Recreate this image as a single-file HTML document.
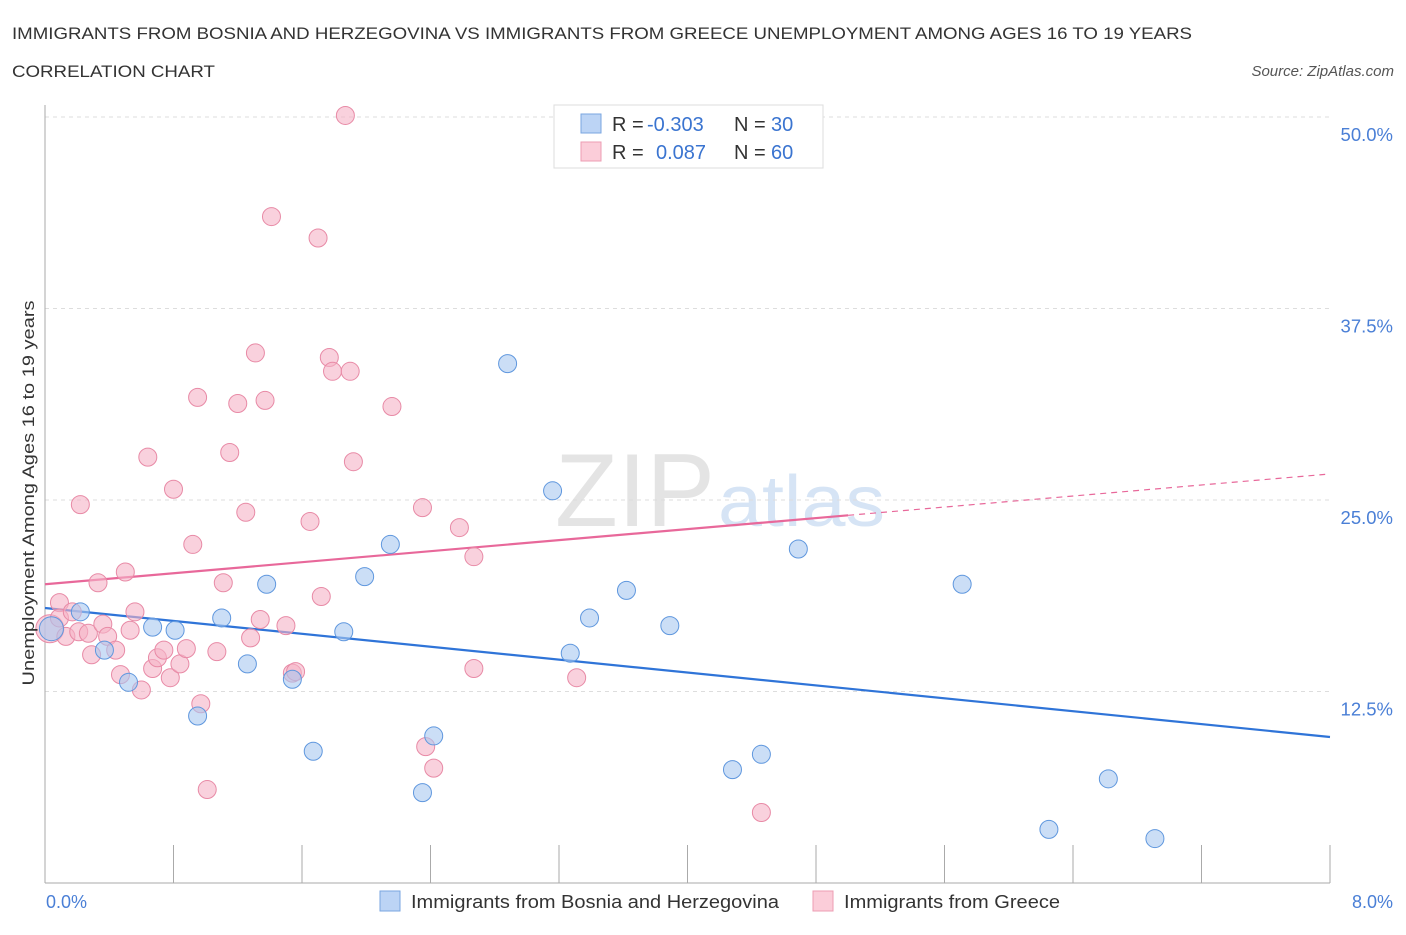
<!DOCTYPE html>
<html><head><meta charset="utf-8"><style>
body{margin:0;background:#fff;font-family:"Liberation Sans",sans-serif;}
svg text{font-family:"Liberation Sans",sans-serif;}
</style></head><body>
<svg id="chart" width="1406" height="930">
<text x="12" y="39" font-size="17" fill="#333" textLength="1180" lengthAdjust="spacingAndGlyphs">IMMIGRANTS FROM BOSNIA AND HERZEGOVINA VS IMMIGRANTS FROM GREECE UNEMPLOYMENT AMONG AGES 16 TO 19 YEARS</text>
<text x="12" y="77" font-size="17" fill="#333" textLength="203" lengthAdjust="spacingAndGlyphs">CORRELATION CHART</text>
<text x="1394" y="76" font-size="15" fill="#555" font-style="italic" text-anchor="end">Source: ZipAtlas.com</text>
<text x="555" y="526" font-size="104" fill="#e4e4e4" font-family="Liberation Serif" textLength="160" lengthAdjust="spacingAndGlyphs">ZIP</text>
<text x="718" y="526" font-size="72" fill="#d6e4f5" textLength="167" lengthAdjust="spacingAndGlyphs">atlas</text>
<g id="grid"></g>
<g id="axes"></g>
<g id="lines"></g>
<g id="points"></g>
<text transform="translate(34,493) rotate(-90)" font-size="17" fill="#333" text-anchor="middle" textLength="385" lengthAdjust="spacingAndGlyphs">Unemployment Among Ages 16 to 19 years</text>
<text x="46" y="908" font-size="18" fill="#4a7fd6">0.0%</text>
<text x="1393" y="908" font-size="18" fill="#4a7fd6" text-anchor="end">8.0%</text>
<g>
<rect x="554" y="105" width="269" height="63" fill="#fff" stroke="#ddd"/>
<rect x="581" y="114" width="20" height="19" fill="#bcd4f5" stroke="#7aa6e0"/>
<rect x="581" y="142" width="20" height="19" fill="#fbcdd9" stroke="#ec9db3"/>
<text x="612" y="131" font-size="20" fill="#333">R = <tspan x="647" fill="#3a74d0">-0.303</tspan><tspan x="734">N = </tspan><tspan x="771" fill="#3a74d0">30</tspan></text>
<text x="612" y="159" font-size="20" fill="#333">R = <tspan x="656" fill="#3a74d0">0.087</tspan><tspan x="734">N = </tspan><tspan x="771" fill="#3a74d0">60</tspan></text>
</g>
<g>
<rect x="380" y="891" width="20" height="20" fill="#bcd4f5" stroke="#7aa6e0"/>
<text x="411" y="908" font-size="18" fill="#333" textLength="368" lengthAdjust="spacingAndGlyphs">Immigrants from Bosnia and Herzegovina</text>
<rect x="813" y="891" width="20" height="20" fill="#fbcdd9" stroke="#ec9db3"/>
<text x="844" y="908" font-size="18" fill="#333" textLength="216" lengthAdjust="spacingAndGlyphs">Immigrants from Greece</text>
</g>
</svg>
<script>
const blueX=[0.04,0.22,0.37,0.52,0.67,0.81,0.95,1.10,1.26,1.38,1.54,1.67,1.86,1.99,2.15,2.35,2.42,2.88,3.16,3.27,3.39,3.62,3.89,4.28,4.46,4.69,5.71,6.25,6.62,6.91];
const blueY=[16.6,17.7,15.2,13.1,16.7,16.5,10.9,17.3,14.3,19.5,13.3,8.6,16.4,20.0,22.1,5.9,9.6,33.9,25.6,15.0,17.3,19.1,16.8,7.4,8.4,21.8,19.5,3.5,6.8,2.9];
const pinkX=[0.03,0.09,0.09,0.13,0.17,0.21,0.22,0.27,0.29,0.33,0.36,0.39,0.44,0.47,0.50,0.53,0.56,0.60,0.64,0.67,0.70,0.74,0.78,0.80,0.84,0.88,0.92,0.95,0.97,1.01,1.07,1.11,1.15,1.20,1.25,1.28,1.31,1.34,1.37,1.41,1.50,1.54,1.56,1.65,1.70,1.72,1.77,1.79,1.90,1.87,1.92,2.16,2.35,2.37,2.42,2.58,2.67,2.67,3.31,4.46];
const pinkY=[16.6,18.3,17.3,16.1,17.7,16.4,24.7,16.3,14.9,19.6,16.9,16.1,15.2,13.6,20.3,16.5,17.7,12.6,27.8,14.0,14.7,15.2,13.4,25.7,14.3,15.3,22.1,31.7,11.7,6.1,15.1,19.6,28.1,31.3,24.2,16.0,34.6,17.2,31.5,43.5,16.8,13.7,13.8,23.6,42.1,18.7,34.3,33.4,33.4,50.1,27.5,31.1,24.5,8.9,7.5,23.2,21.3,14.0,13.4,4.6];
const yTicks=[12.5,25.0,37.5,50.0];
const yTickLabels=["12.5%","25.0%","37.5%","50.0%"];
const xTicks=[0,0.8,1.6,2.4,3.2,4.0,4.8,5.6,6.4,7.2,8.0];
const blueTrend=[17.95,9.53];
const pinkTrend=[19.5,26.7];
const pinkSolidEnd=5.0;

const X=v=>45+v*160.625;
const Y=v=>883-v*15.32;
const NS="http://www.w3.org/2000/svg";
function mk(tag,parent,attrs){const e=document.createElementNS(NS,tag);for(const k in attrs)e.setAttribute(k,attrs[k]);parent.appendChild(e);return e;}
const grid=document.getElementById('grid'),axes=document.getElementById('axes'),lines=document.getElementById('lines'),pts=document.getElementById('points');
yTicks.forEach((t,i)=>{
  const l=mk('line',grid,{x1:45,x2:1330,y1:Y(t),y2:Y(t),stroke:'#ddd','stroke-dasharray':'4,4'});
  
  
  const tx=mk('text',grid,{x:1393,y:Y(t)+24,'font-size':18.5,fill:'#4a7fd6','text-anchor':'end'});
  tx.textContent=yTickLabels[i];
  
  
});
const ya=mk('line',axes,{x1:45,x2:45,y1:105,y2:883,stroke:'#aaa'});


const xa=mk('line',axes,{x1:45,x2:1330,y1:883,y2:883,stroke:'#aaa'});


xTicks.forEach(t=>{
  const l=mk('line',axes,{x1:X(t),x2:X(t),y1:845,y2:883,stroke:'#aaa'});
  
  
});
function pt(x,y,fill,stroke,r,name){
  const c=mk('circle',pts,{cx:X(x),cy:Y(y),r:r,fill:fill,stroke:stroke,'stroke-width':1,'fill-opacity':0.6});
  
  
}
pinkX.forEach((x,i)=>pt(x,pinkY[i],'#f5b3c6','#e88aa6',i===0?14:9,'greece-point'));
blueX.forEach((x,i)=>pt(x,blueY[i],'#a9c8f0','#5f97de',i===0?12:9,'bosnia-point'));
const bl=mk('line',lines,{x1:X(0),y1:Y(blueTrend[0]),x2:X(8),y2:Y(blueTrend[1]),stroke:'#2f74d8','stroke-width':2.2});


const pAt=x=>pinkTrend[0]+(pinkTrend[1]-pinkTrend[0])*x/8;
const pl=mk('line',lines,{x1:X(0),y1:Y(pAt(0)),x2:X(pinkSolidEnd),y2:Y(pAt(pinkSolidEnd)),stroke:'#e8689a','stroke-width':2.2});


const pd=mk('line',lines,{x1:X(pinkSolidEnd),y1:Y(pAt(pinkSolidEnd)),x2:X(7.97),y2:Y(pAt(7.97)),stroke:'#e8689a','stroke-width':1.2,'stroke-dasharray':'6,5'});


</script>
</body></html>
